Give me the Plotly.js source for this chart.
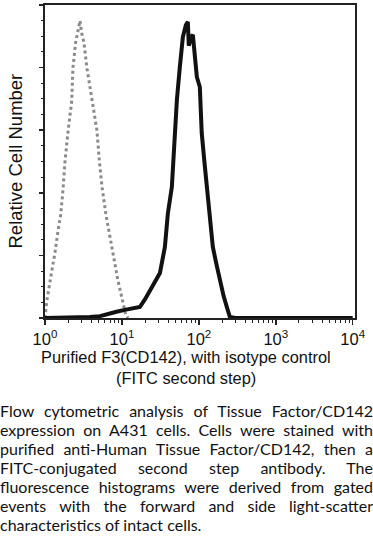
<!DOCTYPE html>
<html>
<head>
<meta charset="utf-8">
<script src="https://cdn.plot.ly/plotly-3.0.1.min.js"></script>
<style>
  html, body { margin: 0; padding: 0; background: #fff; width: 373px; height: 540px; overflow: hidden; }
  #chart { position: absolute; left: 0; top: 0; width: 373px; height: 540px; }
  #caption {
    position: absolute; left: 0; top: 401px; width: 373px;
    font-family: Lato, "Open Sans", sans-serif; font-size: 16px; line-height: 19px;
    color: #111; text-align: justify;
  }
</style>
</head>
<body>
<div id="chart"></div>
<div id="caption">Flow cytometric analysis of Tissue Factor/CD142 expression on A431 cells. Cells were stained with purified anti-Human Tissue Factor/CD142, then a FITC-conjugated second step antibody. The fluorescence histograms were derived from gated events with the forward and side light-scatter characteristics of intact cells.</div>
<script>
// Isotype control (gray, dotted)
const isoX = [1, 1.05, 1.15, 1.25, 1.35, 1.5, 1.6, 1.7, 1.82, 2.0, 2.22, 2.31, 2.5, 2.7, 2.85, 3.0, 3.21, 3.5, 3.84, 4.3, 4.73, 5.1, 5.5, 6.2, 6.98, 8.0, 8.87, 10.3, 11.2, 12];
const isoY = [0, 0.05, 0.11, 0.16, 0.21, 0.29, 0.33, 0.40, 0.50, 0.60, 0.69, 0.80, 0.88, 0.92, 0.95, 0.91, 0.88, 0.80, 0.74, 0.66, 0.60, 0.50, 0.42, 0.33, 0.26, 0.18, 0.12, 0.05, 0.01, 0];

// Purified F3 (CD142) (black, solid)
const cdX = [1, 2, 3, 3.84, 5.18, 6.98, 8.5, 10.9, 14, 17.1, 20, 23.1, 27, 31.2, 36.2, 39.6, 44.6, 45.9, 51.8, 56.6, 62, 67.8, 71.9, 74, 76.4, 80, 83.6, 88, 94.2, 103, 109, 118, 127, 140, 152, 170, 187, 210, 231, 253, 300, 1000, 10000];
const cdY = [0, 0, 0, 0.003, 0.006, 0.016, 0.02, 0.026, 0.03, 0.035, 0.06, 0.089, 0.12, 0.144, 0.227, 0.335, 0.419, 0.482, 0.696, 0.802, 0.898, 0.936, 0.946, 0.87, 0.89, 0.90, 0.904, 0.85, 0.77, 0.738, 0.591, 0.5, 0.419, 0.32, 0.227, 0.17, 0.121, 0.07, 0.035, 0.003, 0, 0, 0];

const xTickVals = [1, 10, 100, 1000, 10000];
const xTickText = ['10<sup>0</sup>', '10<sup>1</sup>', '10<sup>2</sup>', '10<sup>3</sup>', '10<sup>4</sup>'];
const xMinorVals = [2,3,4,5,6,7,8,9,20,30,40,50,60,70,80,90,200,300,400,500,600,700,800,900,2000,3000,4000,5000,6000,7000,8000,9000];

const xTitle1 = 'Purified F3(CD142), with isotype control';
const xTitle2 = '(FITC second step)';
const yTitle = 'Relative Cell Number';

const traces = [
  { x: isoX, y: isoY, type: 'scatter', mode: 'lines',
    line: { color: '#8a8a8a', width: 3, dash: 'dot' }, hoverinfo: 'skip' },
  { x: cdX, y: cdY, type: 'scatter', mode: 'lines',
    line: { color: '#111', width: 4 }, hoverinfo: 'skip' }
];

const layout = {
  width: 373, height: 540,
  margin: { l: 45, r: 18, t: 5, b: 222 },
  paper_bgcolor: '#fff', plot_bgcolor: '#fff',
  showlegend: false,
  font: { family: 'Liberation Sans, Arial, sans-serif', color: '#111' },
  xaxis: {
    type: 'log', range: [0, 4.03],
    showgrid: false, zeroline: false,
    showline: true, linecolor: '#222', linewidth: 2, mirror: true,
    tickmode: 'array', tickvals: xTickVals, ticktext: xTickText,
    ticks: 'outside', ticklen: 5, tickwidth: 1.5, tickcolor: '#222',
    tickfont: { size: 16.5, family: 'Liberation Sans, Arial, sans-serif', color: '#111' },
    minor: { tickmode: 'array', tickvals: xMinorVals, ticks: 'outside', ticklen: 3, tickwidth: 1, tickcolor: '#222', showgrid: false }
  },
  yaxis: {
    range: [0, 1],
    showgrid: false, zeroline: false, showticklabels: false,
    showline: true, linecolor: '#222', linewidth: 2, mirror: true,
    tick0: 0, dtick: 0.2,
    ticks: 'outside', ticklen: 4, tickwidth: 1.5, tickcolor: '#222',
    minor: { dtick: 0.05, ticks: 'outside', ticklen: 2, tickwidth: 1, tickcolor: '#222', showgrid: false }
  },
  annotations: [
    { text: xTitle1, xref: 'paper', yref: 'paper', x: (186 - 45) / 310, y: -(357 - 318) / 313,
      xanchor: 'center', yanchor: 'middle', showarrow: false,
      font: { size: 16.4, family: 'Liberation Sans, Arial, sans-serif', color: '#111' } },
    { text: xTitle2, xref: 'paper', yref: 'paper', x: (186 - 45) / 310, y: -(378 - 318) / 313,
      xanchor: 'center', yanchor: 'middle', showarrow: false,
      font: { size: 16.4, family: 'Liberation Sans, Arial, sans-serif', color: '#111' } },
    { text: yTitle, xref: 'paper', yref: 'paper', x: (15 - 45) / 310, y: 0.5,
      xanchor: 'center', yanchor: 'middle', textangle: -90, showarrow: false,
      font: { size: 18.5, family: 'Liberation Sans, Arial, sans-serif', color: '#111' } }
  ]
};

Plotly.newPlot('chart', traces, layout, { staticPlot: true, displayModeBar: false });
</script>
</body>
</html>
